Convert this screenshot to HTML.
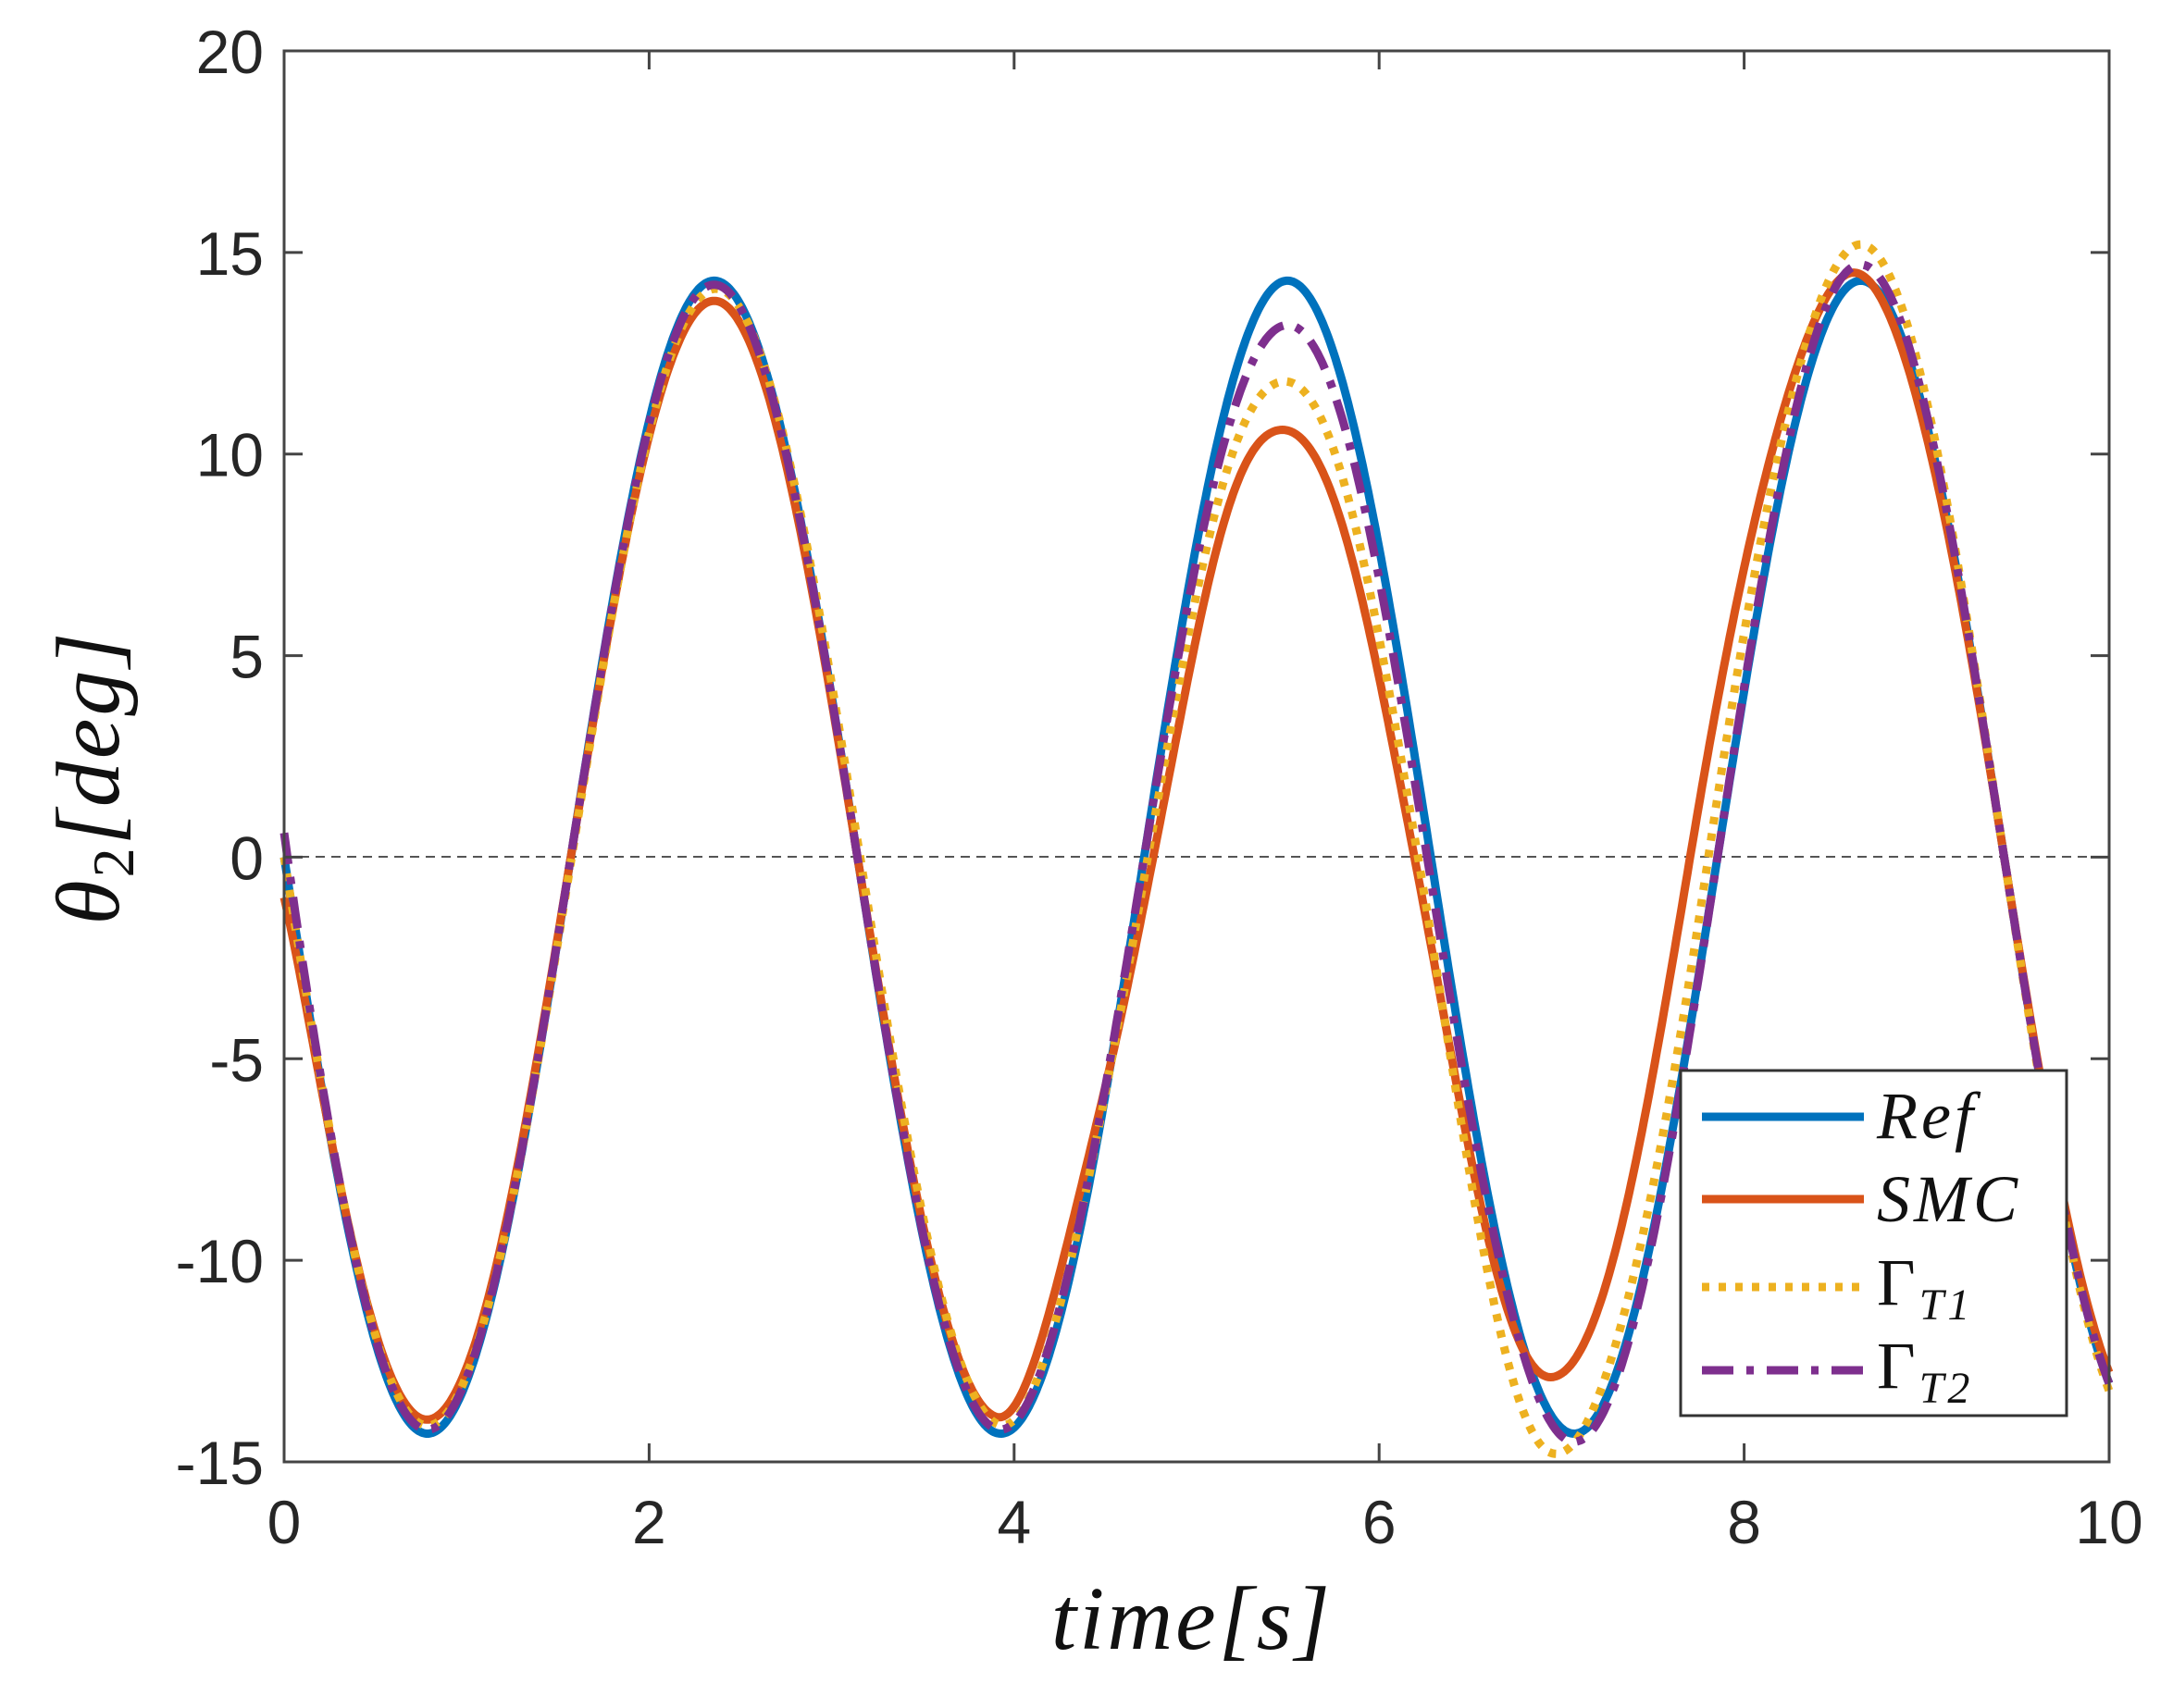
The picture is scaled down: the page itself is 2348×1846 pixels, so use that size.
<!DOCTYPE html>
<html><head><meta charset="utf-8"><style>body{margin:0;background:#fff}svg{display:block}</style></head>
<body>
<svg id="s" width="2348" height="1846" xmlns="http://www.w3.org/2000/svg">
<rect width="2348" height="1846" fill="#fff"/>
<line x1="307" y1="926" x2="2279" y2="926" stroke="#555" stroke-width="2" stroke-dasharray="10,7"/>
<g id="curves" fill="none" stroke-width="9" stroke-linejoin="round"></g>
<g id="axes" stroke="#444" stroke-width="3" fill="none"></g>
<g id="lab" font-family="Liberation Sans, sans-serif" font-size="66" fill="#262626"></g>
<text x="1288" y="1782" font-family="Liberation Serif, serif" font-style="italic" font-size="98" text-anchor="middle" fill="#111" letter-spacing="3">time[s]</text>
<text transform="translate(128,840) rotate(-90)" font-family="Liberation Serif, serif" font-style="italic" font-size="98" text-anchor="middle" fill="#111" letter-spacing="3">θ<tspan font-style="normal" font-size="64" dy="16">2</tspan><tspan dy="-16">[deg]</tspan></text>
<g id="leg">
<rect x="1816" y="1157" width="417" height="373" fill="#fff" stroke="#333" stroke-width="3"/>
<line x1="1839" y1="1207" x2="2014" y2="1207" stroke="#0072BD" stroke-width="9"/>
<line x1="1839" y1="1296" x2="2014" y2="1296" stroke="#D95319" stroke-width="9"/>
<line x1="1839" y1="1391" x2="2014" y2="1391" stroke="#EDB120" stroke-width="9" stroke-dasharray="8,10"/>
<line x1="1839" y1="1481" x2="2014" y2="1481" stroke="#7E2F8E" stroke-width="9" stroke-dasharray="34,14,8,14"/>
<g font-family="Liberation Serif, serif" font-size="72" fill="#111" letter-spacing="4">
<text x="2028" y="1230" font-style="italic">Ref</text>
<text x="2028" y="1320" font-style="italic">SMC</text>
<text x="2028" y="1410">Γ<tspan font-style="italic" font-size="48" dy="16">T1</tspan></text>
<text x="2028" y="1500">Γ<tspan font-style="italic" font-size="48" dy="16">T2</tspan></text>
</g></g>
</svg>
<script>
const L=307,R=2279,T=55,B=1580;
const X=t=>L+(R-L)*t/10, Y=v=>T+(20-v)*(B-T)/35;
function interp(pts,t){if(t<=pts[0][0])return pts[0][1];for(let i=1;i<pts.length;i++){if(t<=pts[i][0]){const a=pts[i-1],b=pts[i];const f=(t-a[0])/(b[0]-a[0]);const g=(1-Math.cos(Math.PI*f))/2;return a[1]+(b[1]-a[1])*g;}}return pts[pts.length-1][1];}
function path(A,D,c0){let d='';for(let i=0;i<=1000;i++){const t=i/100;const v=-interp(A,t)*Math.sin(2*(t-interp(D,t)))+c0*Math.exp(-t/0.12);d+=(i?'L':'M')+X(t).toFixed(1)+','+Y(v).toFixed(1);}return d;}
const series=[
 ['#0072BD',[[0,14.3],[10,14.3]],[[0,0],[10,0]],0,''],
 ['#D95319',[[0,14],[2.36,13.8],[3.9,13.9],[4.5,12],[5.45,10.6],[6.95,12.9],[8.6,14.5],[10,14]],[[0,0],[4,0],[4.8,0.05],[5.45,-0.03],[6.2,-0.09],[7,-0.13],[7.7,-0.15],[8.6,-0.04],[9.4,0],[10,0]],-1,''],
 ['#EDB120',[[0,14.1],[3.9,14.1],[4.6,13],[5.45,11.8],[6.95,14.8],[8.6,15.2],[10,14.5]],[[0,0],[4.8,0.02],[5.45,-0.02],[6.2,-0.07],[6.95,-0.1],[7.8,-0.05],[8.6,0],[10,0]],0,'8,10'],
 ['#7E2F8E',[[0,14.2],[3.9,14.2],[4.6,13.8],[5.47,13.2],[7.05,14.5],[8.6,14.7],[10,14.3]],[[0,0],[5.4,0],[6.3,-0.02],[7.05,0.0],[8.6,0],[10,0]],0.6,'34,14,8,14']];
let g=document.getElementById('curves');
for(const s of series){const p=document.createElementNS('http://www.w3.org/2000/svg','path');p.setAttribute('d',path(s[1],s[2],s[3]));p.setAttribute('stroke',s[0]);if(s[4])p.setAttribute('stroke-dasharray',s[4]);g.appendChild(p);}
let ax=document.getElementById('axes'),lab=document.getElementById('lab');let h='<rect x="'+L+'" y="'+T+'" width="'+(R-L)+'" height="'+(B-T)+'"/>';let tl='';
for(let t=0;t<=10;t+=2){const x=X(t);h+=`<line x1="${x}" y1="${B}" x2="${x}" y2="${B-20}"/><line x1="${x}" y1="${T}" x2="${x}" y2="${T+20}"/>`;tl+=`<text x="${x}" y="${B+88}" text-anchor="middle">${t}</text>`;}
for(let v=-15;v<=20;v+=5){const y=Y(v);h+=`<line x1="${L}" y1="${y}" x2="${L+20}" y2="${y}"/><line x1="${R}" y1="${y}" x2="${R-20}" y2="${y}"/>`;tl+=`<text x="${L-22}" y="${y+24}" text-anchor="end">${v}</text>`;}
ax.innerHTML=h;lab.innerHTML=tl;
</script>
</body></html>
